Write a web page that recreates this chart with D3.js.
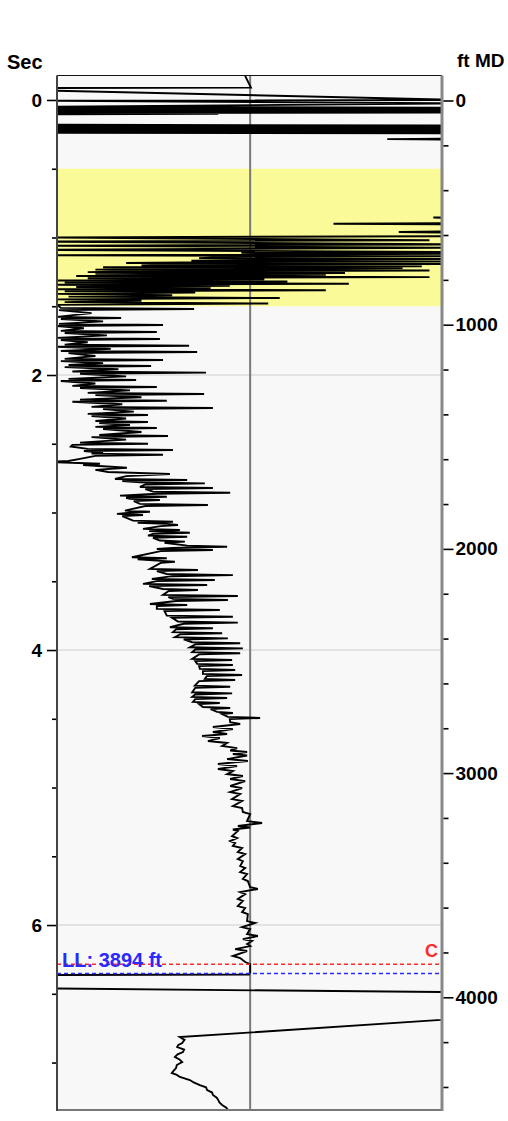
<!DOCTYPE html>
<html><head><meta charset="utf-8">
<script src="https://cdn.jsdelivr.net/npm/d3@7"></script>
<style>body{margin:0;background:#fff} svg{display:block}</style>
</head><body><svg id="c" width="508" height="1121"></svg>
<script>
// ---- data ----
const secMajorTicks = [0, 2, 4, 6];
const secMinorTicks = [0.5, 1, 1.5, 2.5, 3, 3.5, 4.5, 5, 5.5, 6.5, 7];
const ftMajorTicks = [0, 1000, 2000, 3000, 4000];
const ftMinorTicks = [200, 400, 600, 800, 1200, 1400, 1600, 1800, 2200, 2400, 2600, 2800, 3200, 3400, 3600, 3800, 4200, 4400];
const gridSec = [2, 4, 6];
const zoneSec = [0.5, 1.5];
const cutoffValue = 50.3;
const markerFt = [3853, 3894];
const markerLabels = ["C", "LL: 3894 ft"];
const markerColors = ["#ff2a2a", "#2a2aff"];

// log trace: [time (s), log value]
const traceTop = [[-0.175,49],[-0.09,50.5],[-0.087,-5],[-0.07,-5],[0.0,105],[0.006,-5],[0.025,105],[0.05,-5],[0.056,105],[0.062,-5],[0.068,105],[0.074,-5],[0.08,105],[0.086,-5],[0.092,105],[0.096,-5],[0.1,42],[0.104,-5],[0.18,-5],[0.186,105],[0.192,-5],[0.198,105],[0.204,-5],[0.21,105],[0.216,-5],[0.222,105],[0.228,-5],[0.234,105],[0.238,-5],[0.242,105],[0.28,105],[0.285,86],[0.29,105],[0.85,105],[0.855,98],[0.86,105],[0.895,105],[0.9,72],[0.905,105],[0.955,105],[0.96,89],[0.965,105],[0.99,105]];
const traceYellow = [[1.0,-5],[1.02,97],[1.03,-5],[1.05,105],[1.06,-5],[1.075,105],[1.09,-5],[1.105,105],[1.112,48],[1.118,105],[1.124,60],[1.13,-5],[1.136,105],[1.142,45],[1.15,37],[1.156,105],[1.162,55],[1.168,35],[1.174,105],[1.18,40],[1.186,18],[1.192,105],[1.198,30],[1.204,22],[1.21,95],[1.216,12],[1.222,90],[1.228,25],[1.234,10],[1.24,97],[1.246,20],[1.252,8],[1.258,75],[1.264,10],[1.272,70],[1.28,5],[1.288,97],[1.296,8],[1.304,54],[1.312,-3],[1.32,60],[1.328,2],[1.336,76],[1.344,0],[1.352,45],[1.36,5],[1.368,40],[1.376,0],[1.384,70],[1.392,2],[1.4,36],[1.41,0],[1.42,30],[1.43,3],[1.44,58],[1.45,0],[1.46,22],[1.47,2],[1.48,55],[1.49,0]];
const traceUpper = [[1.512,1],[1.52,35.7],[1.528,0.5],[1.55,9],[1.577,0],[1.585,16.7],[1.593,1],[1.61,12],[1.628,0.5],[1.636,27.6],[1.644,0],[1.66,7],[1.679,1],[1.687,26],[1.695,2],[1.712,13],[1.73,0],[1.738,26.8],[1.746,1],[1.762,8],[1.779,2],[1.787,34.4],[1.795,0],[1.81,14],[1.825,1],[1.833,36.5],[1.841,3],[1.862,10],[1.883,2],[1.891,27.6],[1.899,1],[1.914,12],[1.927,3],[1.935,24.5],[1.943,2],[1.958,16],[1.975,4],[1.983,38.8],[1.991,6],[2.01,18],[2.028,3],[2.036,20.6],[2.044,1],[2.062,10],[2.079,4],[2.087,26],[2.095,6],[2.112,19],[2.13,8],[2.138,38.3],[2.146,10],[2.162,22],[2.179,6],[2.187,28.6],[2.195,4],[2.213,17],[2.232,9],[2.24,40.6],[2.248,12],[2.266,20],[2.283,8],[2.291,23.7],[2.299,9],[2.316,18],[2.334,10],[2.342,23.7],[2.35,11],[2.364,19],[2.377,10],[2.385,26],[2.393,12],[2.414,22],[2.436,11],[2.444,28.9],[2.452,9],[2.47,18],[2.492,6],[2.5,23.7],[2.508,4],[2.52,3.6],[2.537,8],[2.545,30.2],[2.553,7],[2.565,12],[2.572,9],[2.58,27.6],[2.588,10],[2.61,6],[2.625,3],[2.632,-2],[2.645,11.2],[2.655,6.8],[2.675,18.2],[2.69,10],[2.705,13.3],[2.72,29.4],[2.735,18]];
const traceMiddle = [[2.756,15.1],[2.764,33.9],[2.772,17],[2.78,21.6],[2.788,38.5],[2.796,23],[2.814,21.6],[2.822,40.6],[2.83,23],[2.848,25],[2.856,45.1],[2.864,26],[2.877,16.4],[2.885,28.6],[2.893,18],[2.901,19],[2.909,26.8],[2.917,20],[2.937,21.6],[2.945,39.3],[2.953,23],[2.986,17.7],[2.994,24.2],[3.002,19],[3.01,15.6],[3.018,22.4],[3.026,17],[3.059,19.8],[3.067,30.2],[3.075,21],[3.083,28.6],[3.091,31.5],[3.099,27],[3.119,22.4],[3.127,32],[3.135,24],[3.139,26.8],[3.147,34.6],[3.155,25],[3.168,23.7],[3.176,33.9],[3.184,25],[3.204,26.8],[3.212,33.3],[3.22,28],[3.241,33.9],[3.249,44.3],[3.257,30],[3.265,26],[3.273,40.6],[3.281,27],[3.325,19.5],[3.333,28.6],[3.341,21],[3.35,26],[3.358,30.7],[3.366,27],[3.41,24.2],[3.418,36.7],[3.426,26],[3.447,28.6],[3.455,45.8],[3.463,30],[3.483,24.7],[3.491,41.1],[3.499,26],[3.519,22.4],[3.527,39.1],[3.535,24],[3.556,27.6],[3.564,36.7],[3.572,29],[3.599,27.6],[3.607,47.1],[3.615,29],[3.628,30.2],[3.636,44.5],[3.644,31],[3.665,24.2],[3.673,33.9],[3.681,26],[3.701,26],[3.709,42.4],[3.717,28],[3.75,28.6],[3.758,45.8],[3.766,30],[3.793,31.5],[3.801,47.1],[3.809,33],[3.834,29.4],[3.842,40.6],[3.85,31],[3.87,30.2],[3.878,43],[3.886,32],[3.907,30.7],[3.915,44.5],[3.923,33],[3.943,35.2],[3.951,47.7],[3.959,36],[3.98,34.6],[3.988,48.4],[3.996,36],[4.016,35.2],[4.024,47.7],[4.032,37],[4.065,35.2],[4.073,45.6],[4.081,36],[4.101,36.5],[4.109,45.8],[4.117,37],[4.137,37.2],[4.145,46.4],[4.153,38],[4.174,38],[4.182,48.2],[4.19,39],[4.21,38.5],[4.218,46.4],[4.226,37],[4.259,35.9],[4.267,45.1],[4.275,36],[4.307,35.2],[4.315,45.6],[4.323,36],[4.341,35.2],[4.349,44.3],[4.357,36],[4.377,35.4],[4.385,42.4],[4.393,37],[4.414,38],[4.422,45.1],[4.43,40],[4.45,41.7],[4.458,45.8],[4.466,43],[4.486,44.5],[4.494,52.9],[4.502,45]];
const traceLower = [[4.524,45.1],[4.538,47.7],[4.56,40.6],[4.575,45.8],[4.596,40.6],[4.611,44.3],[4.625,37.8],[4.64,42.4],[4.662,39.3],[4.676,44.3],[4.698,43],[4.713,46.9],[4.731,45.1],[4.742,49.5],[4.756,45.8],[4.767,49.5],[4.793,44.3],[4.807,49.7],[4.829,41.9],[4.844,46.9],[4.865,41.9],[4.88,45.8],[4.902,44.3],[4.916,48.4],[4.938,45.1],[4.953,49],[4.989,45.1],[5.004,48.2],[5.033,45.1],[5.047,47.7],[5.084,45.6],[5.098,48.2],[5.135,45.8],[5.149,48.2],[5.178,48.4],[5.193,50.3],[5.244,49.5],[5.258,53.4],[5.28,47.1],[5.291,50.3],[5.305,45.8],[5.316,47.1],[5.353,45.6],[5.367,46.9],[5.389,45.1],[5.404,46.4],[5.425,45.8],[5.44,48.2],[5.469,47.1],[5.484,49],[5.52,47.1],[5.535,48.4],[5.571,47.7],[5.585,49],[5.615,47.7],[5.629,49.5],[5.665,48.4],[5.68,49.7],[5.724,50.3],[5.738,52.3],[5.76,47.7],[5.775,49],[5.811,47.1],[5.825,48.4],[5.862,47.1],[5.876,49],[5.905,48.2],[5.92,49.7],[5.971,49.5],[5.985,51.6],[6.015,48.2],[6.029,50.3],[6.065,49.5],[6.08,52.3],[6.102,48.4],[6.116,50.8],[6.138,49.5],[6.153,50.3],[6.175,46.4],[6.189,49.5],[6.225,45.8],[6.24,47.7],[6.269,49],[6.284,50.3]];
const traceBottom = [[6.313,50.3],[6.342,50.3],[6.36,50],[6.364,-5],[6.46,-5],[6.49,110],[6.671,110],[6.815,32],[6.835,33.2],[6.858,32.6],[6.872,31.6],[6.887,31.3],[6.905,33.1],[6.924,32.8],[6.94,31.4],[6.96,30.7],[6.978,31.9],[6.996,32.6],[7.018,31.2],[7.04,31.0],[7.058,30.4],[7.076,29.9],[7.09,31.2],[7.105,32.0],[7.127,34.6],[7.145,35.6],[7.164,37.2],[7.18,38.8],[7.2,39.1],[7.218,40.4],[7.236,40.6],[7.255,41.6],[7.273,42.0],[7.29,42.3],[7.309,43.0],[7.328,44.1],[7.345,44.5],[7.382,45.6]];

// ---- chart ----
const svg = d3.select("#c");
const L = 57, R = 441, T = 75.5, B = 1110;
const y = d3.scaleLinear().domain([-0.178, 7.345]).range([T, B]);
const yFt = d3.scaleLinear().domain([-111.5, 4502.7]).range([T, B]);
const x = d3.scaleLinear().domain([0, 100]).range([L, R]);
const font = "'Liberation Sans', Arial, sans-serif";

svg.append("rect").attr("x", L).attr("y", T).attr("width", R - L).attr("height", B - T).attr("fill", "#f8f8f8");
svg.append("defs").append("clipPath").attr("id", "clip")
  .append("rect").attr("x", L).attr("y", T).attr("width", R - L).attr("height", B - T);

// zone band
svg.append("rect").attr("x", L).attr("width", R - L)
  .attr("y", y(zoneSec[0])).attr("height", y(zoneSec[1]) - y(zoneSec[0]))
  .attr("fill", "#fbfa98");

// grid
svg.append("g").selectAll("line").data(gridSec).join("line")
  .attr("x1", L).attr("x2", R).attr("y1", d => y(d)).attr("y2", d => y(d))
  .attr("stroke", "#dcdcdc").attr("stroke-width", 1.5);

// cutoff line
svg.append("line").attr("x1", x(cutoffValue)).attr("x2", x(cutoffValue)).attr("y1", T).attr("y2", B)
  .attr("stroke", "#7a7a7a").attr("stroke-width", 2);

// trace
const trace = [].concat(traceTop, traceYellow, traceUpper, traceMiddle, traceLower, traceBottom);
const line = d3.line().x(d => x(d[1])).y(d => y(d[0]));
svg.append("path").attr("clip-path", "url(#clip)").attr("d", line(trace))
  .attr("fill", "none").attr("stroke", "#000").attr("stroke-width", 1.9);

// marker lines
const mk = svg.append("g");
markerFt.forEach((ft, i) => {
  mk.append("line").attr("x1", L).attr("x2", R).attr("y1", yFt(ft)).attr("y2", yFt(ft))
    .attr("stroke", markerColors[i]).attr("stroke-width", 1.5).attr("stroke-dasharray", "4,3");
});
mk.append("text").attr("x", R - 3).attr("y", yFt(markerFt[0]) - 7).attr("text-anchor", "end")
  .attr("fill", markerColors[0]).attr("font-family", font).attr("font-weight", "bold").attr("font-size", 18)
  .text(markerLabels[0]);
mk.append("text").attr("x", L + 5).attr("y", yFt(markerFt[1]) - 7)
  .attr("fill", markerColors[1]).attr("font-family", font).attr("font-weight", "bold").attr("font-size", 20)
  .text(markerLabels[1]);

// frame
svg.append("line").attr("x1", L).attr("x2", R + 1).attr("y1", T).attr("y2", T).attr("stroke", "#111").attr("stroke-width", 1.2);
svg.append("line").attr("x1", L).attr("x2", R + 1).attr("y1", B).attr("y2", B).attr("stroke", "#777").attr("stroke-width", 2);
svg.append("line").attr("x1", L).attr("x2", L).attr("y1", T).attr("y2", B + 1).attr("stroke", "#444").attr("stroke-width", 2);
svg.append("line").attr("x1", R + 1).attr("x2", R + 1).attr("y1", T).attr("y2", B + 1).attr("stroke", "#888").attr("stroke-width", 3);

// axes
function styleAxis(g) {
  g.select(".domain").remove();
  g.selectAll(".tick line").attr("stroke", "#000").attr("stroke-width", 1.6);
  g.selectAll(".tick text").attr("font-family", font).attr("font-weight", "bold").attr("font-size", 19).attr("fill", "#000");
}
svg.append("g").attr("transform", `translate(${L - 1},0)`)
  .call(d3.axisLeft(y).tickValues(secMajorTicks).tickSize(9).tickPadding(5).tickFormat(d3.format("d")))
  .call(styleAxis);
svg.append("g").attr("transform", `translate(${L - 1},0)`)
  .call(d3.axisLeft(y).tickValues(secMinorTicks).tickSize(4).tickFormat(""))
  .call(styleAxis);
svg.append("g").attr("transform", `translate(${R + 2.5},0)`)
  .call(d3.axisRight(yFt).tickValues(ftMajorTicks).tickSize(10).tickPadding(2).tickFormat(d3.format("d")))
  .call(styleAxis);
svg.append("g").attr("transform", `translate(${R + 2.5},0)`)
  .call(d3.axisRight(yFt).tickValues(ftMinorTicks).tickSize(5).tickFormat(""))
  .call(styleAxis);

// titles
svg.append("text").attr("x", 7).attr("y", 69).attr("font-family", font).attr("font-weight", "bold").attr("font-size", 20).text("Sec");
svg.append("text").attr("x", 457).attr("y", 67).attr("font-family", font).attr("font-weight", "bold").attr("font-size", 19).text("ft MD");
</script>
</body></html>
